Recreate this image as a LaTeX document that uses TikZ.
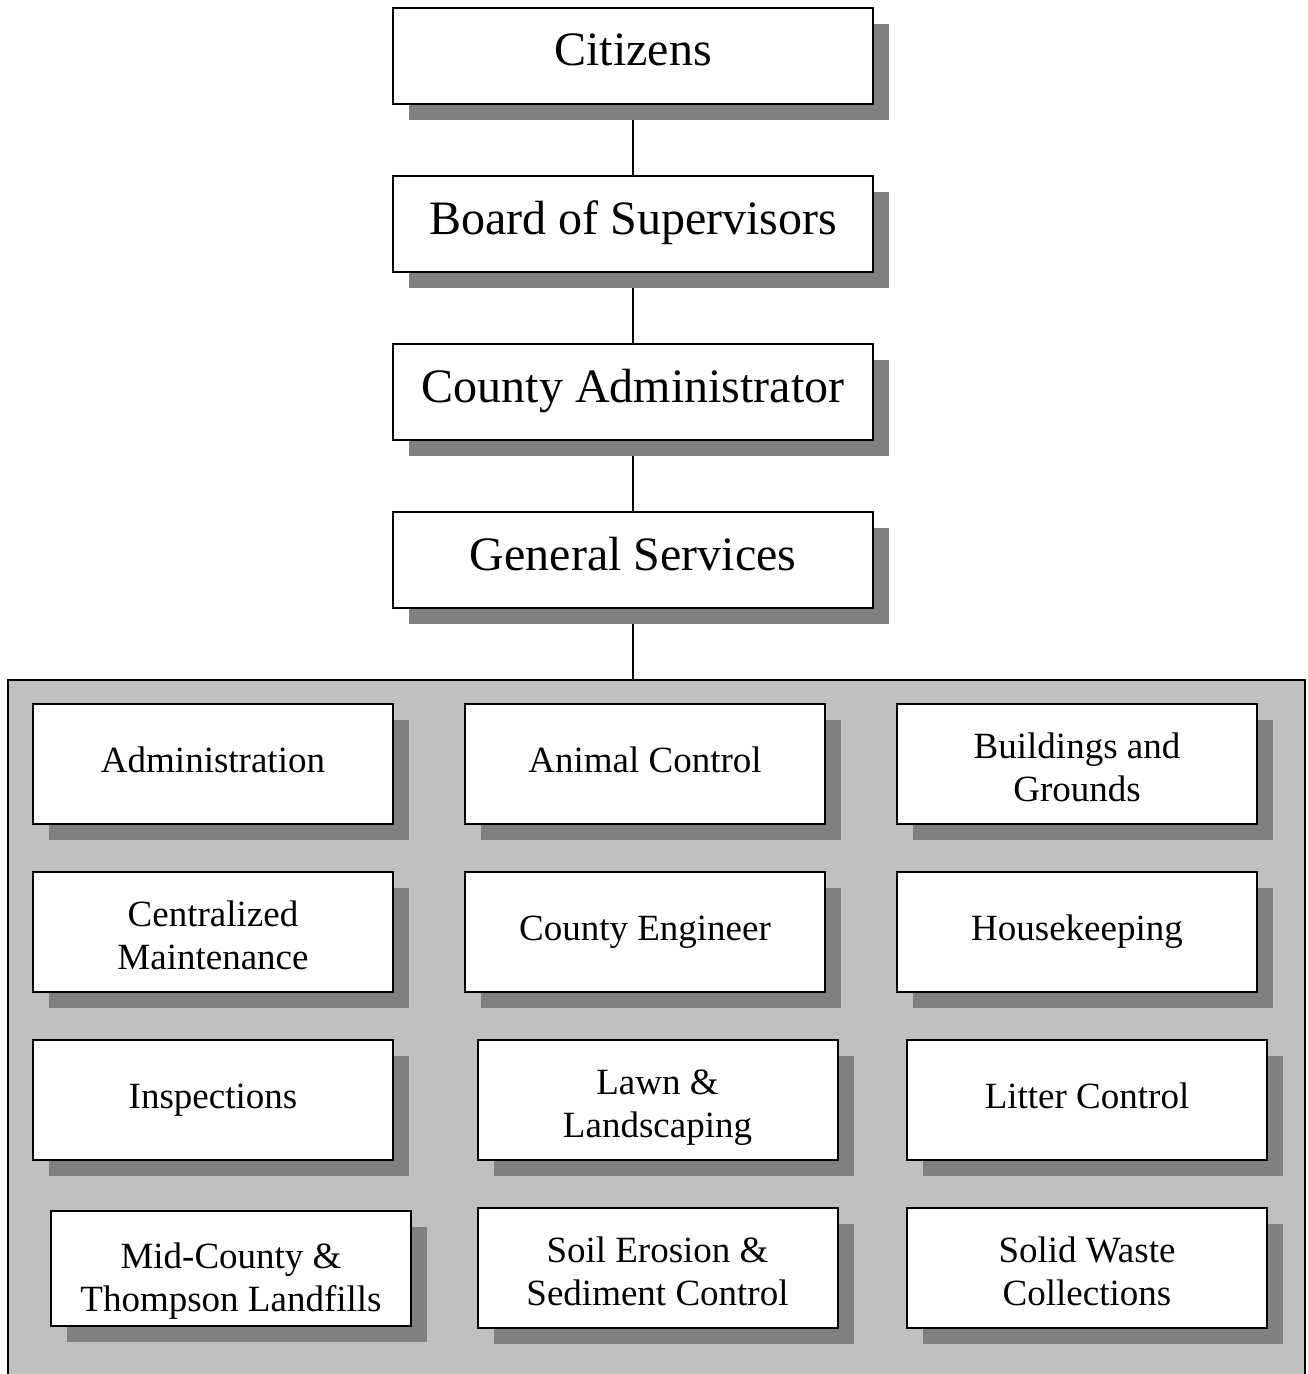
\documentclass[tikz,border=0pt]{standalone}
\usepackage{fontspec}
\setmainfont{Liberation Serif}
\usetikzlibrary{positioning}
\usetikzlibrary{shadows}
\usetikzlibrary{backgrounds}
\newcommand{\TikZscale}{0.5}
\newcommand{\px}{*\TikZscale pt}
\newcommand{\hi}{\rule{0pt}{22pt}}
\tikzset{every picture/.style={node distance=36pt}}
\tikzstyle{box}    = [draw, line width=1pt, fill=white, inner sep=0pt, outer sep=0pt, align=center,
                      drop shadow={shadow xshift=8pt, shadow yshift=-8pt, fill=black!50, opacity=1}]
\tikzstyle{chief}  = [box, minimum width=240pt, minimum height=48pt, font=\fontsize{24}{22}\selectfont]
\tikzstyle{unit}   = [box, minimum width=180pt, minimum height=60pt, font=\fontsize{18.5}{21.5}\selectfont]
\tikzstyle{panel}  = [draw, line width=1pt, fill=black!25, inner sep=0pt, outer sep=0pt,
                      minimum width=648.5pt, minimum height=355pt]
\tikzstyle{link}   = [line width=0.7pt]

\begin{document}
\begin{tikzpicture}
	% frame
	\useasboundingbox (0,0) rectangle (1307\px,-1374\px);

	% chain of command
	\node[chief] (citizens) at (633\px,-56\px) {\strut Citizens};
	\node[chief, below=of citizens] (board) {\strut Board of Supervisors};
	\node[chief, below=of board] (admin) {\strut County Administrator};
	\node[chief, below=of admin] (gensvc) {\strut General Services};

	% divisions
	\node[panel] (depts) at (656.5\px,-1035\px) {};

	\node[unit] (administration) at (213\px,-764\px)  {\strut Administration};
	\node[unit] (animal)         at (645\px,-764\px)  {\strut Animal Control};
	\node[unit] (buildings)      at (1077\px,-764\px) {\hi Buildings and\\ Grounds\strut};

	\node[unit] (maint)          at (213\px,-932\px)  {\hi Centralized\\ Maintenance\strut};
	\node[unit] (engineer)       at (645\px,-932\px)  {\strut County Engineer};
	\node[unit] (housekeeping)   at (1077\px,-932\px) {\strut Housekeeping};

	\node[unit] (inspections)    at (213\px,-1100\px)   {\strut Inspections};
	\node[unit] (lawn)           at (657.5\px,-1100\px) {\hi Lawn \&\\ Landscaping\strut};
	\node[unit] (litter)         at (1087\px,-1100\px)  {\strut Litter Control};

	\node[unit, minimum height=57.5pt] (landfills) at (231\px,-1268.5\px) {\rule{0pt}{28pt}Mid-County \&\\ Thompson Landfills\strut};
	\node[unit] (erosion)        at (657.5\px,-1268\px) {\hi Soil Erosion \&\\ Sediment Control\strut};
	\node[unit] (waste)          at (1087\px,-1268\px)  {\hi Solid Waste\\ Collections\strut};

	% connectors
	\begin{scope}[on background layer]
		\draw[link] (citizens) -- (board);
		\draw[link] (board) -- (admin);
		\draw[link] (admin) -- (gensvc);
		\draw[link] (gensvc) -- (gensvc |- depts.north);
	\end{scope}
\end{tikzpicture}
\end{document}
